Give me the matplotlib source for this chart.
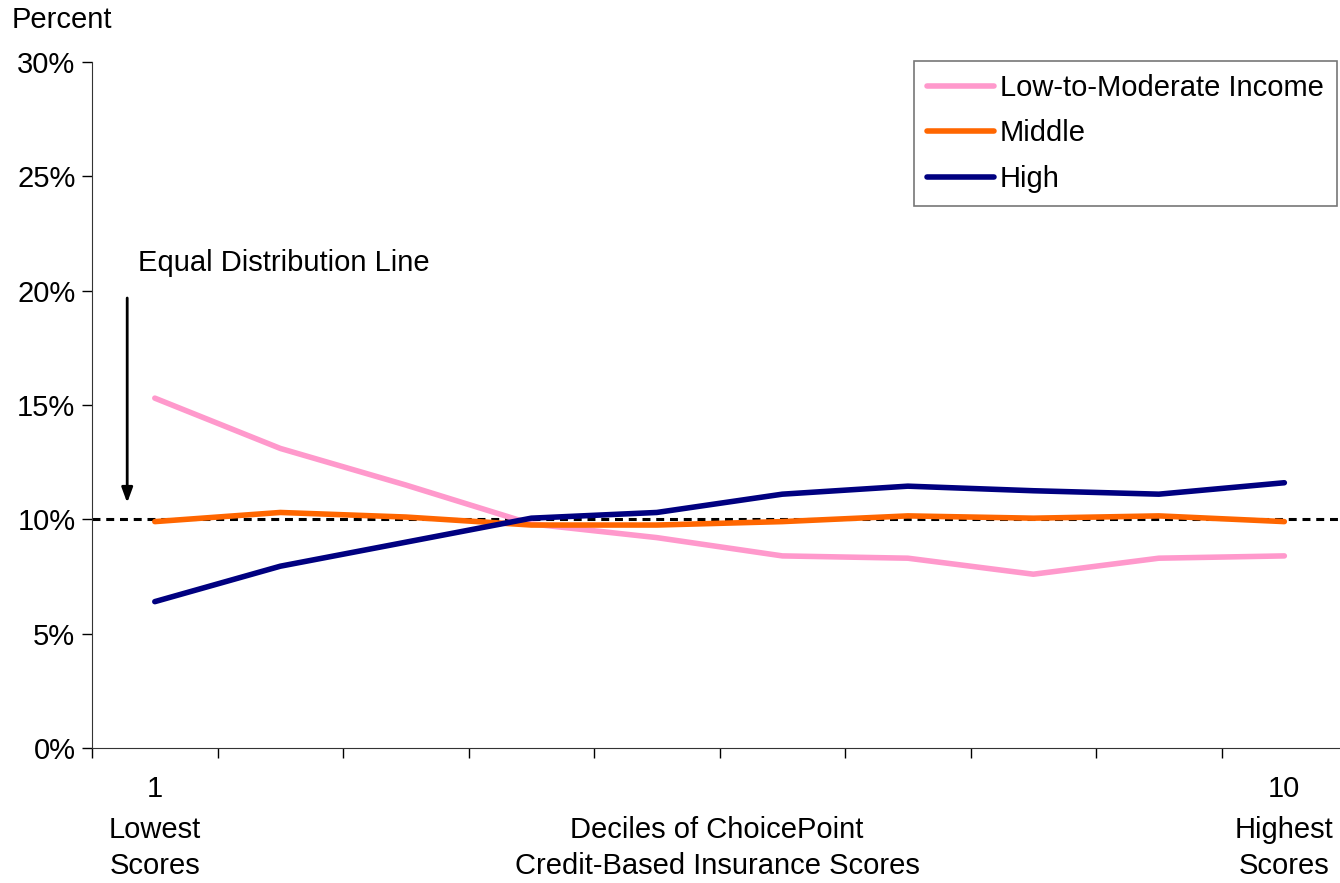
import numpy as np
import matplotlib.pyplot as plt
from matplotlib.ticker import FuncFormatter

plt.rcParams['font.family'] = ['Liberation Sans', 'DejaVu Sans']

deciles = np.arange(1, 11)
low_mod = [15.3, 13.1, 11.5, 9.8, 9.2, 8.4, 8.3, 7.6, 8.3, 8.4]
middle = [9.9, 10.3, 10.1, 9.75, 9.75, 9.9, 10.15, 10.05, 10.15, 9.9]
high = [6.4, 7.95, 9.0, 10.05, 10.3, 11.1, 11.45, 11.25, 11.1, 11.6]
equal_share = 10.0
series_names = ["Low-to-Moderate Income", "Middle", "High"]
series_colors = ["#ff99cc", "#ff6600", "#000080"]

FS = 21

fig = plt.figure(figsize=(13.4, 8.83), dpi=100)
ax = fig.add_axes([0.0687, 0.1529, 0.9366, 0.7769])

for vals, name, col in zip([low_mod, middle, high], series_names, series_colors):
    ax.plot(deciles, vals, color=col, lw=4.0, label=name, solid_capstyle="round")

ax.axhline(equal_share, color="black", lw=2.2, ls=(0, (2.6, 1.9)), zorder=1)

ax.set_xlim(0.5, 10.5)
ax.set_ylim(0, 30)
ax.set_yticks(np.arange(0, 31, 5))
ax.yaxis.set_major_formatter(FuncFormatter(lambda v, p: f"{v:.0f}%"))
ax.tick_params(axis="y", labelsize=FS, length=7, width=1, direction="out", pad=5)

# tick marks between deciles, labels placed by hand below
ax.set_xticks(np.arange(0.5, 10.6, 1))
ax.set_xticklabels([])
ax.tick_params(axis="x", length=7, width=1, direction="out")

for side in ["top", "right"]:
    ax.spines[side].set_visible(False)
for side in ["left", "bottom"]:
    ax.spines[side].set_color("#333333")

tr = ax.get_xaxis_transform()
ax.text(1, -0.06, "1", transform=tr, ha="center", va="center", fontsize=FS)
ax.text(10, -0.06, "10", transform=tr, ha="center", va="center", fontsize=FS)
for x, top, bottom in [(1, "Lowest", "Scores"), (10, "Highest", "Scores"),
                       (5.48, "Deciles of ChoicePoint", "Credit-Based Insurance Scores")]:
    ax.text(x, -0.1195, top, transform=tr, ha="center", va="center", fontsize=FS)
    ax.text(x, -0.172, bottom, transform=tr, ha="center", va="center", fontsize=FS)

fig.text(0.009, 0.977, "Percent", ha="left", va="center", fontsize=FS)

ax.annotate("", xy=(0.78, 10.6), xytext=(0.78, 19.8),
            arrowprops=dict(arrowstyle="-|>,head_width=0.33,head_length=0.9",
                            color="black", lw=2))
ax.text(0.87, 21.2, "Equal Distribution Line", ha="left", va="center", fontsize=FS)

leg = ax.legend(loc="upper right", bbox_to_anchor=(0.992, 1.002), fontsize=FS,
                frameon=True, fancybox=False, edgecolor="#555555",
                handlelength=2.3, handletextpad=0.2, labelspacing=0.6,
                borderpad=0.45, borderaxespad=0)
leg.get_frame().set_linewidth(1.2)

fig.set_facecolor("white")
fig.savefig("out.png", dpi=100, facecolor="white")
